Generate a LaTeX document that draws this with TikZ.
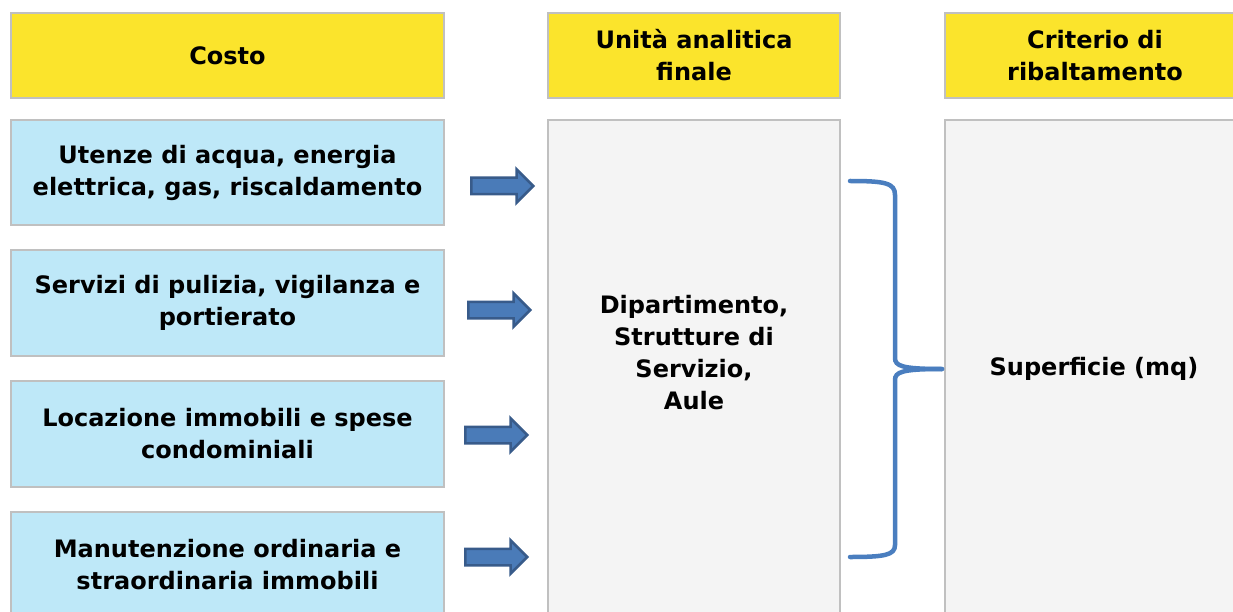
\documentclass[tikz,border=0pt]{standalone}
\usepackage{fontspec}
\setmainfont{DejaVu Sans}
\usetikzlibrary{shapes.arrows}
\definecolor{hdryellow}{HTML}{FBE42C}
\definecolor{costblue}{HTML}{BEE8F8}
\definecolor{unitgray}{HTML}{F4F4F4}
\definecolor{edgegray}{HTML}{C0C0C0}
\definecolor{arrfill}{HTML}{4A7BB8}
\definecolor{arredge}{HTML}{385B8A}
\definecolor{bracecol}{HTML}{4A7EBF}
\begin{document}
\begin{tikzpicture}[x=1pt,y=-1pt,
  every node/.style={font=\bfseries\fontsize{24}{32}\selectfont, align=center, inner sep=0pt},
  hdr/.style={draw=edgegray, line width=2pt, fill=hdryellow},
  cost/.style={draw=edgegray, line width=2pt, fill=costblue},
  unit/.style={draw=edgegray, line width=2pt, fill=unitgray},
  blockarrow/.style={single arrow, draw=arredge, fill=arrfill, line width=2.5pt,
    minimum height=62pt, minimum width=32pt, inner ysep=7pt, inner xsep=0pt,
    single arrow head extend=8.5pt, single arrow tip angle=90, anchor=tail},
  bracestyle/.style={draw=bracecol, line width=4.5pt, line cap=round}]
\useasboundingbox (0,0) rectangle (1233,612);
% headers
\node[hdr, minimum width=433pt, minimum height=85pt] (hcosto) at (227.5,55.5) {Costo};
\node[hdr, minimum width=292pt, minimum height=85pt] (hunita) at (694,55.5) {Unità analitica\\finale};
\node[hdr, minimum width=300pt, minimum height=85pt] (hcrit) at (1095,55.5) {Criterio di\\ribaltamento};
% cost boxes
\node[cost, minimum width=433pt, minimum height=105pt] (c1) at (227.5,172.5) {Utenze di acqua, energia\\elettrica, gas, riscaldamento};
\node[cost, minimum width=433pt, minimum height=106pt] (c2) at (227.5,303) {Servizi di pulizia, vigilanza e\\portierato};
\node[cost, minimum width=433pt, minimum height=106pt] (c3) at (227.5,434) {Locazione immobili e spese\\condominiali};
\node[cost, minimum width=433pt, minimum height=106pt] (c4) at (227.5,565) {Manutenzione ordinaria e\\straordinaria immobili};
% unit box and criterion box
\node[unit, minimum width=292pt, minimum height=520pt] (u) at (694,380) {};
\node at (694,353) (utext) {Dipartimento,\\Strutture di\\Servizio,\\Aule};
\node[unit, minimum width=300pt, minimum height=520pt] (r) at (1095,380) {};
\node at (1094,369) (rtext) {Superficie (mq)};
% block arrows
\node[blockarrow] (a1) at (470,186) {};
\node[blockarrow] (a2) at (467,310) {};
\node[blockarrow] (a3) at (464,435) {};
\node[blockarrow] (a4) at (464,557) {};
% brace
\coordinate (btop) at (850,181);
\coordinate (bmid) at (942,369);
\coordinate (bbot) at (850,557);
\draw[bracestyle] (btop) .. controls (885,181) and (895,183) .. (895,195) -- (895,358)
  .. controls (895,366) and (902,369) .. (bmid);
\draw[bracestyle] (bmid) .. controls (902,369) and (895,372) .. (895,380) -- (895,545)
  .. controls (895,555) and (885,557) .. (bbot);
\end{tikzpicture}
\end{document}
